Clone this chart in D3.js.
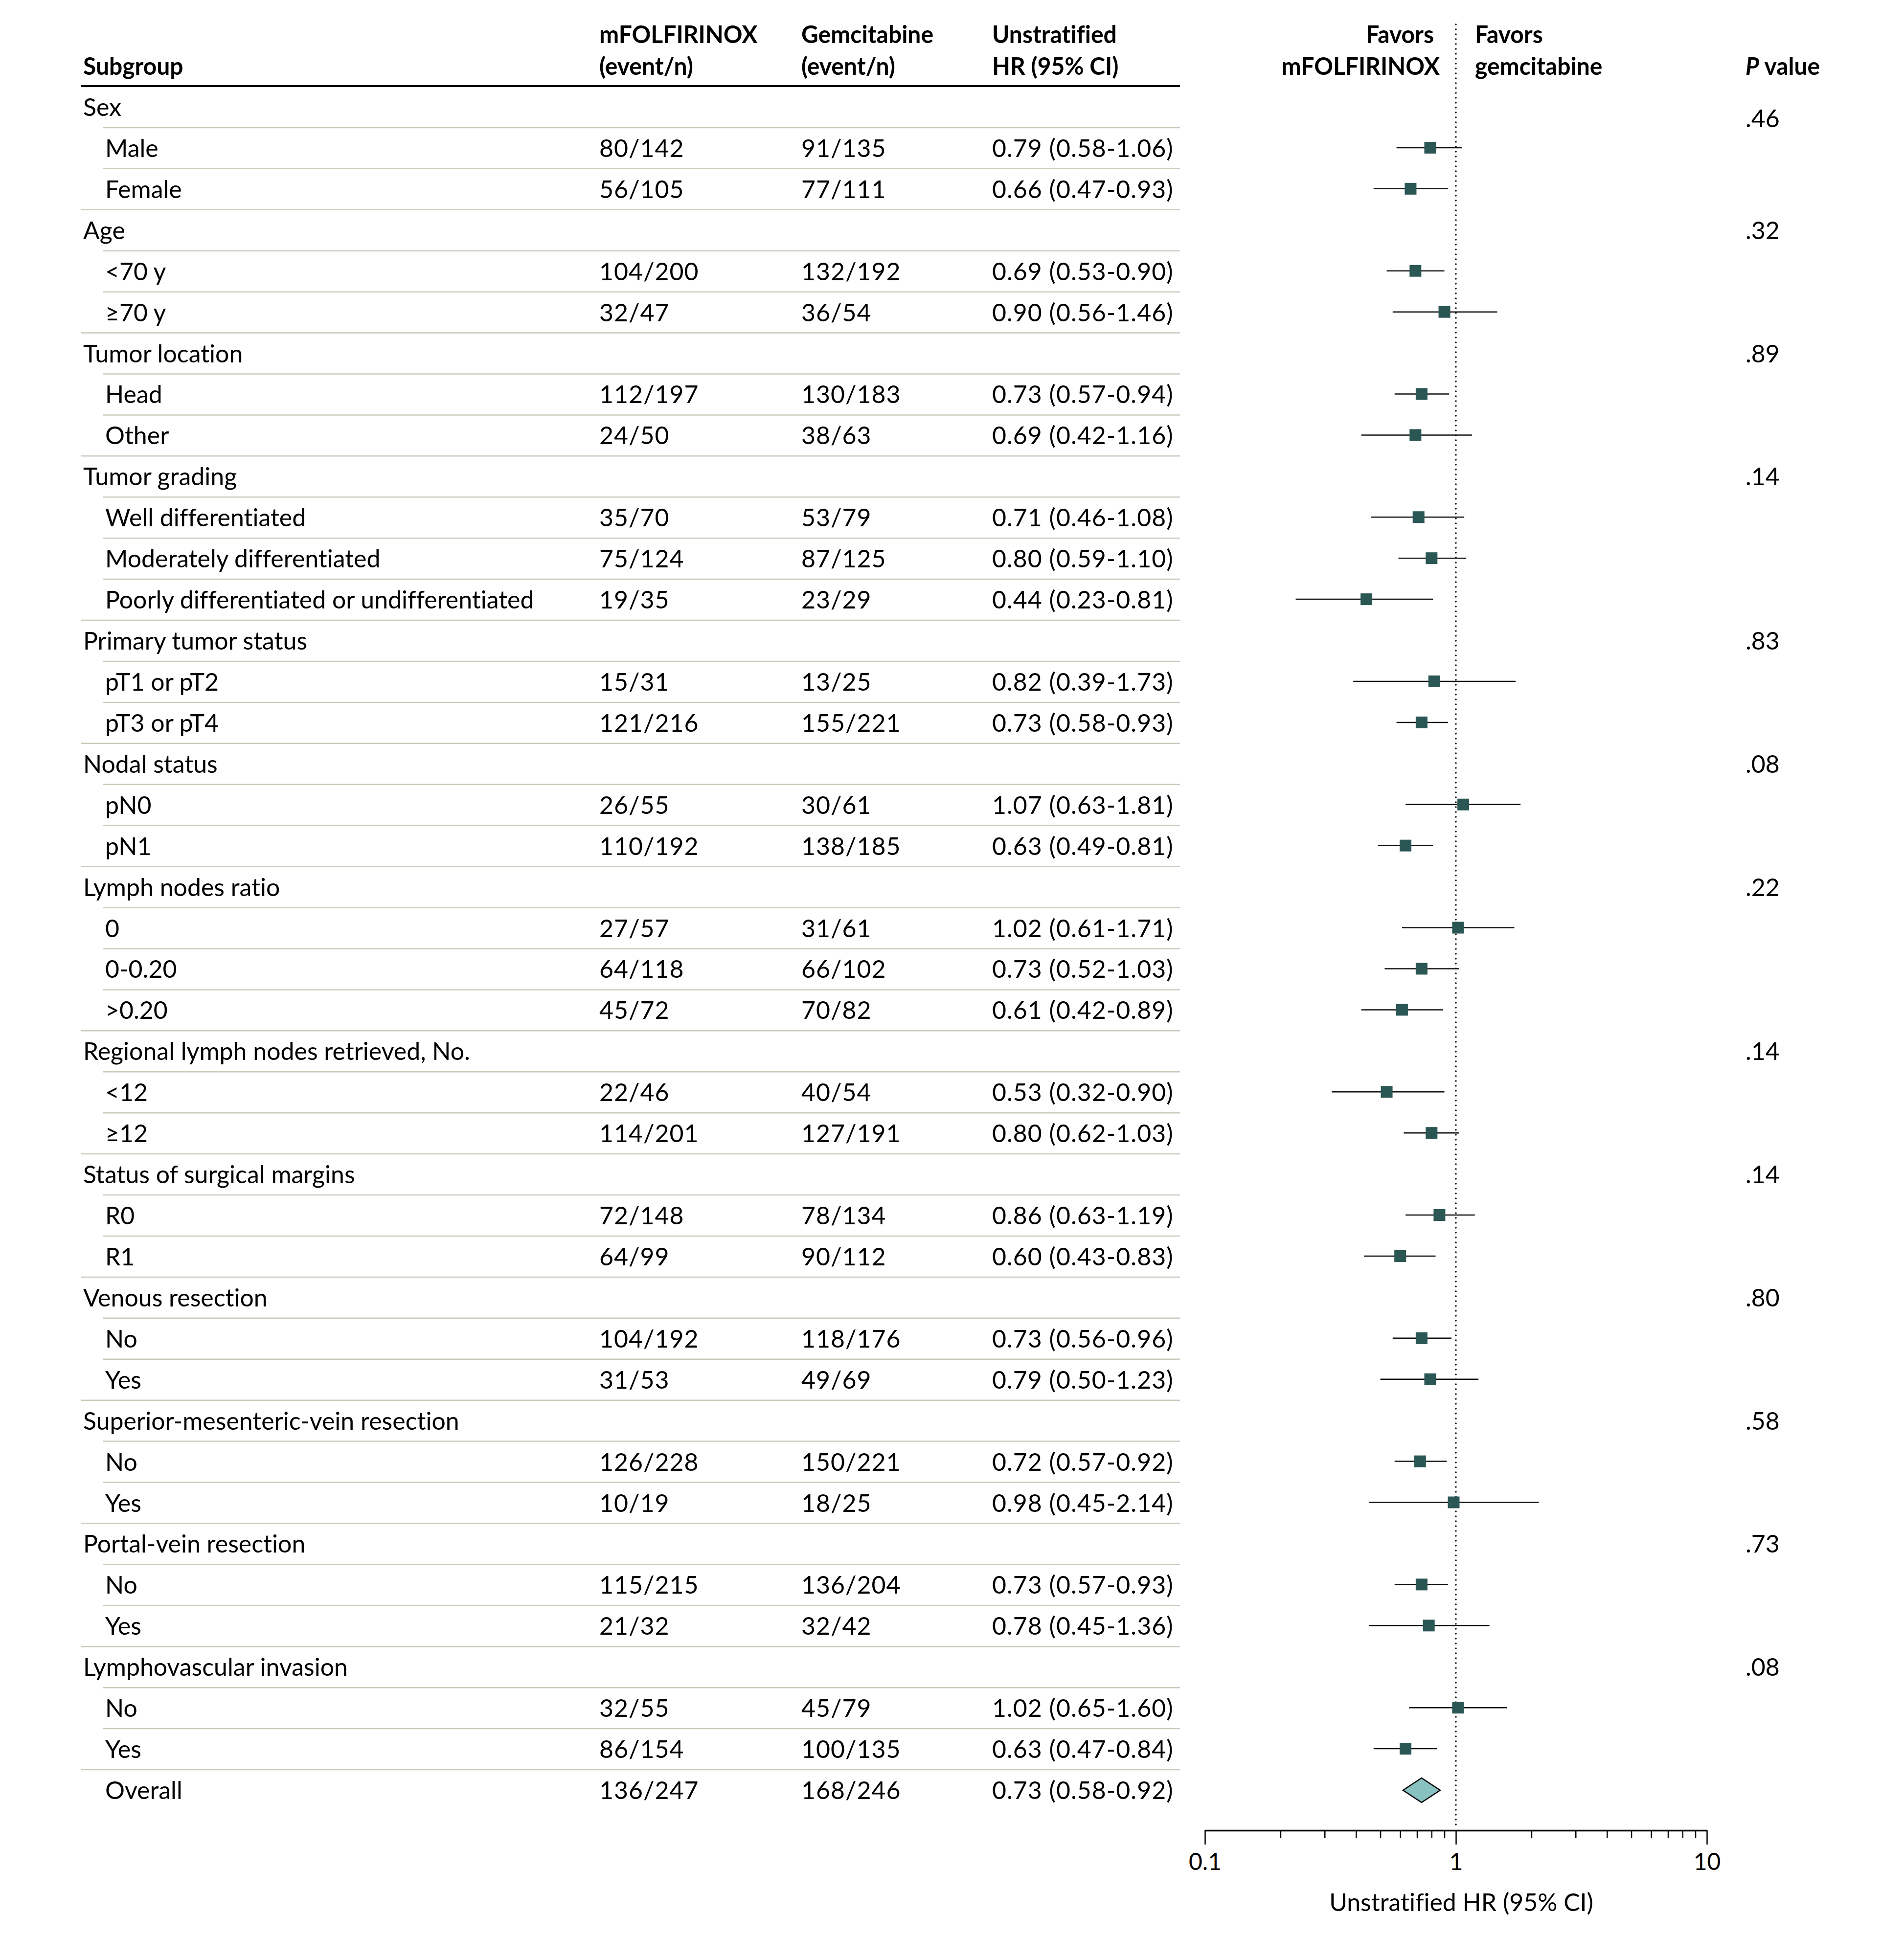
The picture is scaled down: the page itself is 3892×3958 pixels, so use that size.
<!DOCTYPE html>
<html>
<head>
<meta charset="utf-8">
<script src="https://cdn.jsdelivr.net/npm/d3@7"></script>
<style>
  body { margin: 0; background: #fff; }
  svg text {
    font-family: Lato, "Open Sans", sans-serif; fill: #000;
    font-variant-numeric: tabular-nums; font-variant-ligatures: none;
  }
</style>
</head>
<body>
<div id="chart"></div>
<script>
// ---- data ----
const rowLabels = [
  "Sex", "Male", "Female",
  "Age", "<70 y", "\u226570 y",
  "Tumor location", "Head", "Other",
  "Tumor grading", "Well differentiated", "Moderately differentiated", "Poorly differentiated or undifferentiated",
  "Primary tumor status", "pT1 or pT2", "pT3 or pT4",
  "Nodal status", "pN0", "pN1",
  "Lymph nodes ratio", "0", "0-0.20", ">0.20",
  "Regional lymph nodes retrieved, No.", "<12", "\u226512",
  "Status of surgical margins", "R0", "R1",
  "Venous resection", "No", "Yes",
  "Superior-mesenteric-vein resection", "No", "Yes",
  "Portal-vein resection", "No", "Yes",
  "Lymphovascular invasion", "No", "Yes",
  "Overall"
];
const mfolfirinox = [
  null, "80/142", "56/105",
  null, "104/200", "32/47",
  null, "112/197", "24/50",
  null, "35/70", "75/124", "19/35",
  null, "15/31", "121/216",
  null, "26/55", "110/192",
  null, "27/57", "64/118", "45/72",
  null, "22/46", "114/201",
  null, "72/148", "64/99",
  null, "104/192", "31/53",
  null, "126/228", "10/19",
  null, "115/215", "21/32",
  null, "32/55", "86/154",
  "136/247"
];
const gemcitabine = [
  null, "91/135", "77/111",
  null, "132/192", "36/54",
  null, "130/183", "38/63",
  null, "53/79", "87/125", "23/29",
  null, "13/25", "155/221",
  null, "30/61", "138/185",
  null, "31/61", "66/102", "70/82",
  null, "40/54", "127/191",
  null, "78/134", "90/112",
  null, "118/176", "49/69",
  null, "150/221", "18/25",
  null, "136/204", "32/42",
  null, "45/79", "100/135",
  "168/246"
];
const hr = [
  null, 0.79, 0.66,
  null, 0.69, 0.90,
  null, 0.73, 0.69,
  null, 0.71, 0.80, 0.44,
  null, 0.82, 0.73,
  null, 1.07, 0.63,
  null, 1.02, 0.73, 0.61,
  null, 0.53, 0.80,
  null, 0.86, 0.60,
  null, 0.73, 0.79,
  null, 0.72, 0.98,
  null, 0.73, 0.78,
  null, 1.02, 0.63,
  0.73
];
const ciLow = [
  null, 0.58, 0.47,
  null, 0.53, 0.56,
  null, 0.57, 0.42,
  null, 0.46, 0.59, 0.23,
  null, 0.39, 0.58,
  null, 0.63, 0.49,
  null, 0.61, 0.52, 0.42,
  null, 0.32, 0.62,
  null, 0.63, 0.43,
  null, 0.56, 0.50,
  null, 0.57, 0.45,
  null, 0.57, 0.45,
  null, 0.65, 0.47,
  0.58
];
const ciHigh = [
  null, 1.06, 0.93,
  null, 0.90, 1.46,
  null, 0.94, 1.16,
  null, 1.08, 1.10, 0.81,
  null, 1.73, 0.93,
  null, 1.81, 0.81,
  null, 1.71, 1.03, 0.89,
  null, 0.90, 1.03,
  null, 1.19, 0.83,
  null, 0.96, 1.23,
  null, 0.92, 2.14,
  null, 0.93, 1.36,
  null, 1.60, 0.84,
  0.92
];
const pValues = [
  ".46", null, null,
  ".32", null, null,
  ".89", null, null,
  ".14", null, null, null,
  ".83", null, null,
  ".08", null, null,
  ".22", null, null, null,
  ".14", null, null,
  ".14", null, null,
  ".80", null, null,
  ".58", null, null,
  ".73", null, null,
  ".08", null, null,
  null
];
const axisMajor = [0.1, 1, 10];
const axisMinor = [0.2, 0.3, 0.4, 0.5, 0.6, 0.7, 0.8, 0.9, 2, 3, 4, 5, 6, 7, 8, 9];

// ---- layout ----
const W = 3892, H = 3958;
const FS = 50;          // body font size
const SX = 1.0;         // horizontal scale of regular text
const SXB = 0.96;       // horizontal scale of bold header text
const colX = { label: 170, item: 215, mf: 1225, gem: 1638, hr: 2028, p: 3568 };
const tableLeft = 166, itemLeft = 210, tableRight = 2412;
const n = rowLabels.length;

const fmt = v => v.toFixed(2);
const isHeading = i => hr[i] === null;
const isOverall = i => rowLabels[i] === "Overall";

const svg = d3.select("#chart").append("svg")
  .attr("width", W).attr("height", H);

// baseline of each row
const yBase = d3.scaleLinear().domain([0, n - 1]).range([237, 3678]);
const yMid = i => yBase(i) - 19;

// log x for the forest plot
const x = d3.scaleLog().domain([0.1, 10]).range([2463, 3489]);

function txt(g, str, px, py, opt) {
  opt = opt || {};
  const sx = opt.bold ? SXB : SX;
  return g.append("text")
    .attr("transform", `translate(${px},${py}) scale(${sx},1)`)
    .attr("text-anchor", opt.anchor || "start")
    .attr("font-size", opt.size || FS)
    .attr("font-weight", opt.bold ? 700 : 400)
    .attr("letter-spacing", opt.ls || 0)
    .text(str);
}

// ---- header ----
const head = svg.append("g");
txt(head, "Subgroup", colX.label, 153, { bold: true });
txt(head, "mFOLFIRINOX", colX.mf, 88, { bold: true });
txt(head, "(event/n)", colX.mf, 153, { bold: true });
txt(head, "Gemcitabine", colX.gem, 88, { bold: true });
txt(head, "(event/n)", colX.gem, 153, { bold: true });
txt(head, "Unstratified", colX.hr, 88, { bold: true });
txt(head, "HR (95% CI)", colX.hr, 153, { bold: true });
txt(head, "Favors", x(1) - 45, 88, { bold: true, anchor: "end" });
txt(head, "mFOLFIRINOX", x(1) - 33, 153, { bold: true, anchor: "end" });
txt(head, "Favors", x(1) + 39, 88, { bold: true });
txt(head, "gemcitabine", x(1) + 39, 153, { bold: true });
const pv = txt(head, "", colX.p, 153, { bold: true });
pv.append("tspan").attr("font-style", "italic").text("P");
pv.append("tspan").text(" value");

head.append("line")
  .attr("x1", tableLeft).attr("x2", tableRight)
  .attr("y1", 176).attr("y2", 176)
  .attr("stroke", "#000").attr("stroke-width", 4);

// ---- separators ----
const sep = svg.append("g");
for (let i = 1; i < n; i++) {
  const indented = !isHeading(i) && !isOverall(i);
  sep.append("line")
    .attr("x1", indented ? itemLeft : tableLeft).attr("x2", tableRight)
    .attr("y1", yBase(i) - 60).attr("y2", yBase(i) - 60)
    .attr("stroke", "#c9ccbd").attr("stroke-width", 2.5);
}

// ---- table text ----
const body = svg.append("g");
for (let i = 0; i < n; i++) {
  const y = yBase(i);
  if (isHeading(i)) {
    txt(body, rowLabels[i], colX.label, y);
  } else {
    txt(body, rowLabels[i], colX.item, y);
    txt(body, mfolfirinox[i], colX.mf, y, { ls: 1 });
    txt(body, gemcitabine[i], colX.gem, y, { ls: 1 });
    txt(body, `${fmt(hr[i])} (${fmt(ciLow[i])}-${fmt(ciHigh[i])})`, colX.hr, y, { ls: 1 });
  }
  // the first P value sits a little below its heading in the original
  if (pValues[i]) txt(body, pValues[i], colX.p, y + (i === 0 ? 23 : 0));
}

// ---- forest plot ----
const plot = svg.append("g");

plot.append("line")
  .attr("x1", x(1)).attr("x2", x(1))
  .attr("y1", 50).attr("y2", 3738)
  .attr("stroke", "#000").attr("stroke-width", 3.5)
  .attr("stroke-linecap", "round")
  .attr("stroke-dasharray", "0,10");

const idx = d3.range(n).filter(i => !isHeading(i));

plot.selectAll("line.ci")
  .data(idx.filter(i => !isOverall(i)))
  .enter().append("line")
  .attr("class", "ci")
  .attr("x1", i => x(ciLow[i])).attr("x2", i => x(ciHigh[i]))
  .attr("y1", yMid).attr("y2", yMid)
  .attr("stroke", "#111").attr("stroke-width", 2.5);

const SQ = 24;
plot.selectAll("rect.pt")
  .data(idx.filter(i => !isOverall(i)))
  .enter().append("rect")
  .attr("class", "pt")
  .attr("x", i => x(hr[i]) - SQ / 2)
  .attr("y", i => yMid(i) - SQ / 2)
  .attr("width", SQ).attr("height", SQ)
  .attr("fill", "#2a5653");

// overall diamond
const DW = 38, DH = 25;
plot.selectAll("path.diamond")
  .data(idx.filter(isOverall))
  .enter().append("path")
  .attr("class", "diamond")
  .attr("d", i => {
    const cx = x(hr[i]), cy = yMid(i) + 1;
    return `M${cx - DW},${cy} L${cx},${cy - DH} L${cx + DW},${cy} L${cx},${cy + DH} Z`;
  })
  .attr("fill", "#87c2c1").attr("stroke", "#000").attr("stroke-width", 2.5)
  .attr("stroke-linejoin", "miter");

// ---- axis ----
const axisY = 3742;
const gMinor = svg.append("g").attr("transform", `translate(0,${axisY})`)
  .call(d3.axisBottom(x).tickValues(axisMinor).tickSize(16).tickSizeOuter(0).tickFormat(""));
gMinor.select(".domain").remove();
gMinor.selectAll(".tick line").attr("stroke", "#000").attr("stroke-width", 2.5);

const gMajor = svg.append("g").attr("transform", `translate(0,${axisY})`)
  .call(d3.axisBottom(x).tickValues(axisMajor).tickSize(29).tickSizeOuter(0)
    .tickPadding(18).tickFormat(d => d3.format("~g")(d)));
gMajor.select(".domain").attr("stroke", "#000").attr("stroke-width", 3.5);
gMajor.selectAll(".tick line").attr("stroke", "#000").attr("stroke-width", 2.5);
gMajor.selectAll(".tick text")
  .attr("font-size", 48)
  .attr("font-family", "Lato, 'Open Sans', sans-serif")
  .attr("fill", "#000");

txt(svg, "Unstratified HR (95% CI)", 2987, 3907, { anchor: "middle" });
</script>
</body>
</html>
